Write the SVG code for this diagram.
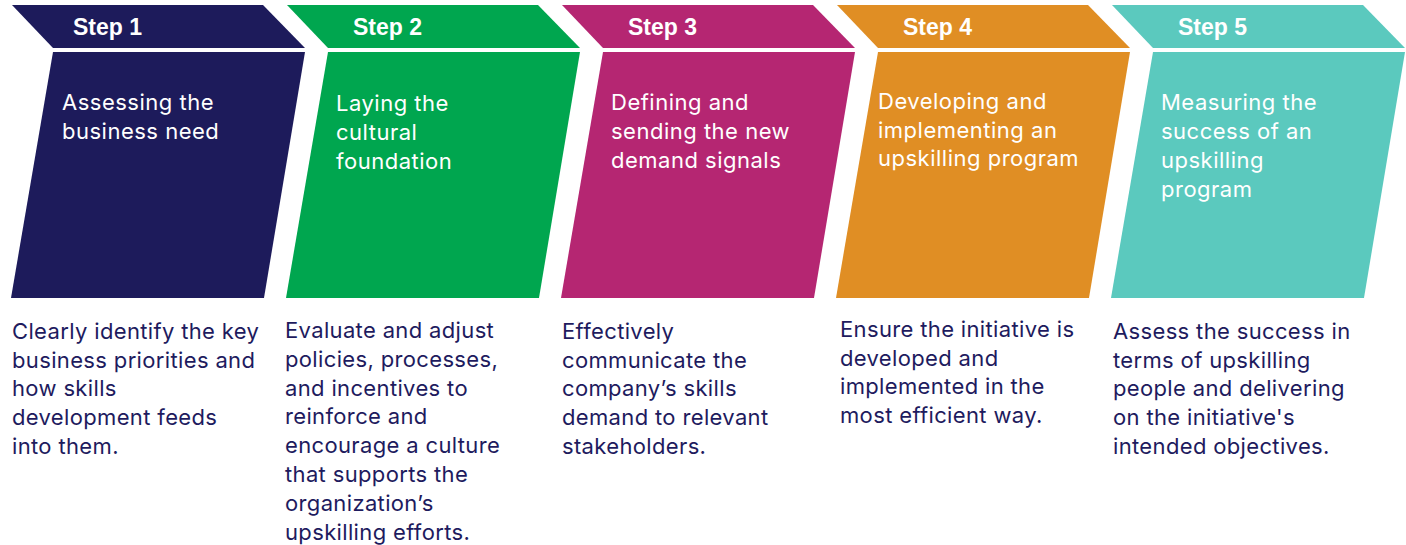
<svg xmlns="http://www.w3.org/2000/svg" width="1406" height="545" viewBox="0 0 1406 545">
<style>
.hd{font-family:"Liberation Sans",Arial,sans-serif;font-weight:bold;font-size:23px;fill:#ffffff}
.tt{font-family:Inter,"Noto Sans",sans-serif;font-size:22px;letter-spacing:0.5px;fill:#ffffff}
.ds{font-family:Inter,"Noto Sans",sans-serif;font-size:22px;letter-spacing:0.35px;fill:#1e1b5e}
</style>
<defs>
<path id="hdr" d="M0,5 L251,5 L293,48 L41,48 Z"/>
<path id="bdy" d="M41,52 L293,52 L252,298 L-1,298 Z"/>
</defs>
<g id="step1">
<use href="#hdr" x="12" fill="#1d1b5b"/>
<use href="#bdy" x="12" fill="#1d1b5b"/>
<text class="hd" x="73" y="35">Step 1</text>
<text class="tt" x="62" y="110"><tspan x="62">Assessing the</tspan><tspan x="62" dy="29">business need</tspan></text>
<text class="ds" x="12" y="339"><tspan x="12">Clearly identify the key</tspan><tspan x="12" dy="28.7">business priorities and</tspan><tspan x="12" dy="28.7">how skills</tspan><tspan x="12" dy="28.7">development feeds</tspan><tspan x="12" dy="28.7">into them.</tspan></text>
</g>
<g id="step2">
<use href="#hdr" x="287" fill="#00a64f"/>
<use href="#bdy" x="287" fill="#00a64f"/>
<text class="hd" x="353" y="35">Step 2</text>
<text class="tt" x="336" y="111"><tspan x="336">Laying the</tspan><tspan x="336" dy="29">cultural</tspan><tspan x="336" dy="29">foundation</tspan></text>
<text class="ds" x="285" y="338"><tspan x="285">Evaluate and adjust</tspan><tspan x="285" dy="28.8">policies, processes,</tspan><tspan x="285" dy="28.8">and incentives to</tspan><tspan x="285" dy="28.8">reinforce and</tspan><tspan x="285" dy="28.8">encourage a culture</tspan><tspan x="285" dy="28.8">that supports the</tspan><tspan x="285" dy="28.8">organization’s</tspan><tspan x="285" dy="28.8">upskilling efforts.</tspan></text>
</g>
<g id="step3">
<use href="#hdr" x="562" fill="#b52672"/>
<use href="#bdy" x="562" fill="#b52672"/>
<text class="hd" x="628" y="35">Step 3</text>
<text class="tt" x="611" y="110"><tspan x="611">Defining and</tspan><tspan x="611" dy="29">sending the new</tspan><tspan x="611" dy="29">demand signals</tspan></text>
<text class="ds" x="562" y="339"><tspan x="562">Effectively</tspan><tspan x="562" dy="28.7">communicate the</tspan><tspan x="562" dy="28.7">company’s skills</tspan><tspan x="562" dy="28.7">demand to relevant</tspan><tspan x="562" dy="28.7">stakeholders.</tspan></text>
</g>
<g id="step4">
<use href="#hdr" x="837" fill="#e08e24"/>
<use href="#bdy" x="837" fill="#e08e24"/>
<text class="hd" x="903" y="35">Step 4</text>
<text class="tt" x="878" y="109"><tspan x="878">Developing and</tspan><tspan x="878" dy="28.7">implementing an</tspan><tspan x="878" dy="28.7">upskilling program</tspan></text>
<text class="ds" x="840" y="337"><tspan x="840">Ensure the initiative is</tspan><tspan x="840" dy="28.7">developed and</tspan><tspan x="840" dy="28.7">implemented in the</tspan><tspan x="840" dy="28.7">most efficient way.</tspan></text>
</g>
<g id="step5">
<use href="#hdr" x="1112" fill="#5bc9be"/>
<use href="#bdy" x="1112" fill="#5bc9be"/>
<text class="hd" x="1178" y="35">Step 5</text>
<text class="tt" x="1161" y="110"><tspan x="1161">Measuring the</tspan><tspan x="1161" dy="29">success of an</tspan><tspan x="1161" dy="29">upskilling</tspan><tspan x="1161" dy="29">program</tspan></text>
<text class="ds" x="1113" y="339"><tspan x="1113">Assess the success in</tspan><tspan x="1113" dy="28.7">terms of upskilling</tspan><tspan x="1113" dy="28.7">people and delivering</tspan><tspan x="1113" dy="28.7">on the initiative's</tspan><tspan x="1113" dy="28.7">intended objectives.</tspan></text>
</g>
<g id="connectors"></g>
</svg>
